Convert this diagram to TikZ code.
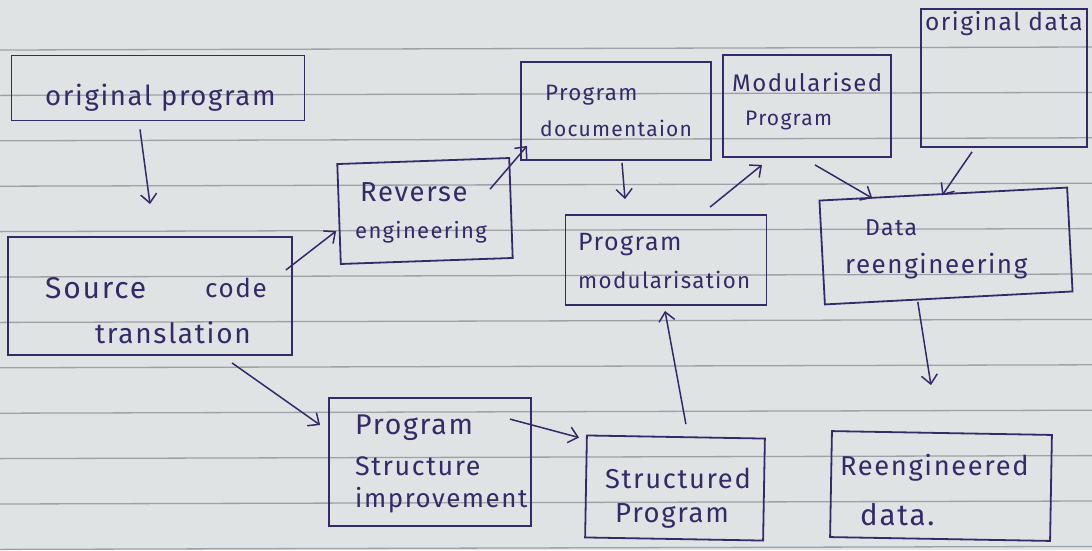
\documentclass[tikz,border=0pt]{standalone}
\usepackage{fontspec}
\setmainfont{Fira Sans}
\newfontfamily\hand[LetterSpace=6]{Fira Sans}
\usetikzlibrary{arrows.meta}
\definecolor{paper}{HTML}{E0E3E4}
\definecolor{rule}{HTML}{9EA2A6}
\definecolor{ink}{HTML}{35296A}
\tikzset{
  box/.style={draw=ink, line width=1.8pt, rectangle, inner sep=0pt},
  txt/.style={text=ink, font=\hand\fontsize{#1}{#1}\selectfont, inner sep=0pt, anchor=west},
  txt/.default=27,
  arr/.style={draw=ink, line width=1.5pt, -{Straight Barb[length=9pt,width=16pt,line width=1.5pt]}},
}
\begin{document}
\begin{tikzpicture}[x=1pt,y=-1pt]
  % sheet of ruled paper
  \fill[paper] (0,0) rectangle (1092,550);
  \useasboundingbox (0,0) rectangle (1092,550);
  \foreach \k in {0,...,11} {
    \draw[rule, line width=1.3pt] (0,{50+45.4*\k}) -- (1092,{47+45.4*\k});
  }

  % boxes
  \node[box, minimum width=293, minimum height=65]  (op)  at (158,88)  {};
  \node[box, minimum width=284, minimum height=118] (sct) at (150,296) {};
  \node[box, minimum width=172, minimum height=100, rotate=2] (re)  at (425,211) {};
  \node[box, minimum width=190, minimum height=98]  (pd)  at (616,111) {};
  \node[box, minimum width=168, minimum height=102] (mp)  at (807,106) {};
  \node[box, minimum width=166, minimum height=138] (od)  at (1004,78) {};
  \node[box, minimum width=201, minimum height=90]  (pm)  at (666,260) {};
  \node[box, minimum width=248, minimum height=104, rotate=3] (dr)  at (946,246) {};
  \node[box, minimum width=202, minimum height=128] (psi) at (430,462) {};
  \node[box, minimum width=178, minimum height=102, rotate=-1] (sp)  at (675,488) {};
  \node[box, minimum width=220, minimum height=106, rotate=-1] (rd)  at (941,486) {};

  % texts
  \node[txt=27.5] (t1)  at (45,98)   {original program};
  \node[txt=30]   (t2a) at (45,288)  {Source};
  \node[txt=26]   (t2b) at (205,288) {code};
  \node[txt=28]   (t3)  at (95,333)  {translation};
  \node[txt=27.5] (t4)  at (360,192) {Reverse};
  \node[txt=22]   (t5)  at (355,232) {engineering};
  \node[txt=22.3] (t6)  at (545,95)  {Program};
  \node[txt=21]   (t7)  at (540,128) {documentaion};
  \node[txt=24]   (t8)  at (732,82)  {Modularised};
  \node[txt=21]   (t9)  at (745,120) {Program};
  \node[txt=24.5] (t10) at (925,24)  {original data};
  \node[txt=25]   (t11) at (578,245) {Program};
  \node[txt=22.3] (t12) at (578,280) {modularisation};
  \node[txt=23]   (t13) at (865,228) {Data};
  \node[txt=26]   (t14) at (845,266) {reengineering};
  \node[txt=28.5] (t15) at (355,428) {Program};
  \node[txt=26.8] (t16) at (355,466) {Structure};
  \node[txt=25.9] (t17) at (355,500) {improvement};
  \node[txt=27.3] (t18) at (605,478) {Structured};
  \node[txt=27.5] (t19) at (615,516) {Program};
  \node[txt=27.3] (t20) at (840,468) {Reengineered};
  \node[txt=29.5] (t21) at (860,515) {data.};

  % connectors
  \draw[arr] ([shift={(-18,8)}]op.south) -- ([shift={(0,-32)}]sct.north);
  \draw[arr] ([shift={(-7,-26)}]sct.east) -- ([shift={(-2,17)}]re.west);
  \draw[arr] ([shift={(-20,32)}]re.north east) -- ([shift={(7,-15)}]pd.south west);
  \draw[arr] ([shift={(6,2)}]pd.south) -- ([shift={(-41,-15)}]pm.north);
  \draw[arr] ([shift={(44,-7)}]pm.north) -- ([shift={(-45,7)}]mp.south);
  \draw[arr] ([shift={(8,7)}]mp.south) -- ([shift={(-71,5)}]dr.north);
  \draw[arr] ([shift={(-32,4)}]od.south) -- ([shift={(-1,2)}]dr.north);
  \draw[arr] ([shift={(-31,3)}]dr.south) -- ([shift={(-11,-47)}]rd.north);
  \draw[arr] ([shift={(82,7)}]sct.south) -- ([shift={(-8,-37)}]psi.west);
  \draw[arr] ([shift={(-22,22)}]psi.north east) -- ([shift={(-7,3)}]sp.north west);
  \draw[arr] ([shift={(10,-12)}]sp.north) -- ([shift={(-1,5)}]pm.south);
\end{tikzpicture}
\end{document}
